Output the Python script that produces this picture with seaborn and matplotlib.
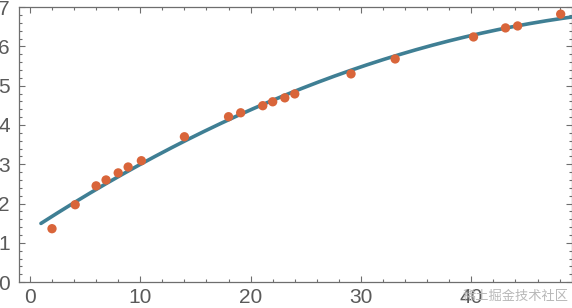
import numpy as np
import pandas as pd
import matplotlib
matplotlib.use("Agg")
import matplotlib.pyplot as plt
import seaborn as sns
from matplotlib.ticker import MultipleLocator

x_vals = [2.0, 4.1, 6.0, 6.9, 8.0, 8.9, 10.1, 14.0, 18.0, 19.1,
          21.1, 22.0, 23.1, 24.0, 29.1, 33.1, 40.2, 43.1, 44.2, 48.1]
y_vals = [1.36, 1.97, 2.45, 2.60, 2.78, 2.93, 3.09, 3.70, 4.21, 4.31,
          4.49, 4.59, 4.69, 4.79, 5.30, 5.68, 6.24, 6.47, 6.52, 6.82]
x_ticks = [0, 10, 20, 30, 40]
y_ticks = [0, 1, 2, 3, 4, 5, 6, 7]
fit_range = [1, 50]
watermark = "稀土掘金技术社区"

point_color = "#D9653A"
line_color = "#3F7F94"
frame_color = "#6E6E6E"
label_color = "#5A5A5A"

sns.set_theme(style="white")
plt.rcParams['font.family'] = ['Liberation Sans', 'DejaVu Sans']

df = pd.DataFrame({"x": x_vals, "y": y_vals})
coef = np.polyfit(df["x"], df["y"], 2)
xs = np.linspace(fit_range[0], fit_range[1], 200)
fit_df = pd.DataFrame({"x": xs, "y": np.polyval(coef, xs)})

fig = plt.figure(figsize=(5.72, 3.08), dpi=100)
ax = fig.add_axes([0.034, 0.084, 0.9655, 0.893])

sns.lineplot(data=fit_df, x="x", y="y", ax=ax, color=line_color, linewidth=2.6, zorder=3)
sns.scatterplot(data=df, x="x", y="y", ax=ax, color=point_color, s=45, edgecolor="none", zorder=4)

ax.set_xlim(-0.95, 49.1)
ax.set_ylim(0, 7)
ax.set_xticks(x_ticks)
ax.set_yticks(y_ticks)
ax.xaxis.set_minor_locator(MultipleLocator(2))
ax.yaxis.set_minor_locator(MultipleLocator(0.2))
ax.set_xlabel("")
ax.set_ylabel("")
ax.tick_params(which="both", direction="in", top=True, right=True,
               bottom=True, left=True, color=frame_color, width=0.8)
ax.tick_params(which="major", length=4.5)
ax.tick_params(which="minor", length=2.5)
ax.tick_params(axis="x", which="major", labelsize=15, labelcolor=label_color, pad=4)
ax.tick_params(axis="y", which="major", labelsize=15, labelcolor=label_color, pad=7)
for s in ax.spines.values():
    s.set_color(frame_color)
    s.set_linewidth(0.9)

fig.text(0.994, 0.018, watermark, ha="right", va="bottom", fontsize=9.5,
         color="#B8B8B8", family=["Noto Sans CJK SC", "DejaVu Sans"])

fig.savefig("out.png", dpi=100)
